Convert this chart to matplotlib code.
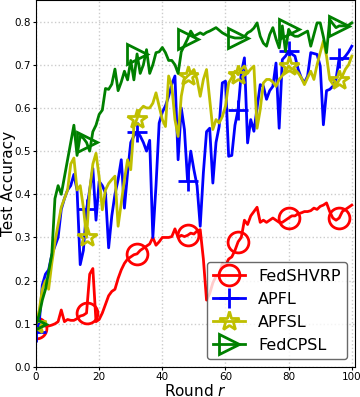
import numpy as np
import matplotlib
matplotlib.use("Agg")
import matplotlib.pyplot as plt

rounds = np.arange(0, 101)

fedshvrp = [0.09, 0.09, 0.095, 0.095, 0.095, 0.097, 0.1, 0.105, 0.132, 0.105,
            0.11, 0.108, 0.108, 0.112, 0.118, 0.12, 0.125, 0.215, 0.228, 0.105,
            0.11, 0.125, 0.145, 0.165, 0.175, 0.18, 0.205, 0.225, 0.24, 0.25,
            0.255, 0.26, 0.262, 0.27, 0.275, 0.28, 0.285, 0.30, 0.282, 0.29,
            0.30, 0.30, 0.30, 0.302, 0.32, 0.30, 0.305, 0.302, 0.305, 0.31,
            0.308, 0.315, 0.318, 0.25, 0.155, 0.17, 0.195, 0.21, 0.215, 0.24,
            0.235, 0.25, 0.255, 0.27, 0.29, 0.30, 0.34, 0.33, 0.35, 0.36,
            0.37, 0.335, 0.34, 0.335, 0.34, 0.345, 0.34, 0.335, 0.335, 0.34,
            0.345, 0.35, 0.35, 0.355, 0.357, 0.36, 0.36, 0.362, 0.368, 0.365,
            0.372, 0.375, 0.38, 0.36, 0.345, 0.34, 0.345, 0.36, 0.365, 0.37,
            0.375]

apfl = [0.08, 0.1, 0.19, 0.215, 0.225, 0.26, 0.28, 0.30, 0.365, 0.39,
        0.41, 0.42, 0.446, 0.41, 0.237, 0.27, 0.365, 0.41, 0.46, 0.34,
        0.43, 0.42, 0.403, 0.276, 0.35, 0.40, 0.434, 0.48, 0.368, 0.45,
        0.52, 0.535, 0.545, 0.535, 0.52, 0.50, 0.525, 0.30, 0.42, 0.565,
        0.59, 0.605, 0.627, 0.655, 0.674, 0.48, 0.60, 0.55, 0.43, 0.50,
        0.457, 0.42, 0.326, 0.45, 0.545, 0.553, 0.426, 0.52, 0.557, 0.658,
        0.662, 0.488, 0.49, 0.56, 0.596, 0.681, 0.716, 0.519, 0.573, 0.546,
        0.60, 0.654, 0.65, 0.62, 0.64, 0.65, 0.704, 0.553, 0.712, 0.72,
        0.731, 0.725, 0.72, 0.69, 0.67, 0.658, 0.674, 0.728, 0.726, 0.724,
        0.697, 0.561, 0.64, 0.643, 0.65, 0.666, 0.716, 0.712, 0.72, 0.73,
        0.743]

apfsl = [0.1, 0.13, 0.18, 0.2, 0.18, 0.24, 0.29, 0.33, 0.37, 0.39,
         0.41, 0.47, 0.484, 0.41, 0.42, 0.37, 0.30, 0.41, 0.47, 0.495,
         0.44, 0.364, 0.41, 0.425, 0.434, 0.442, 0.326, 0.38, 0.434, 0.48,
         0.457, 0.557, 0.575, 0.596, 0.604, 0.60, 0.60, 0.611, 0.635, 0.604,
         0.573, 0.557, 0.674, 0.65, 0.573, 0.534, 0.627, 0.666, 0.674, 0.68,
         0.689, 0.666, 0.627, 0.666, 0.689, 0.62, 0.55, 0.573, 0.565, 0.58,
         0.604, 0.658, 0.67, 0.685, 0.677, 0.69, 0.697, 0.681, 0.69, 0.697,
         0.553, 0.596, 0.658, 0.666, 0.666, 0.66, 0.65, 0.666, 0.675, 0.685,
         0.697, 0.69, 0.689, 0.681, 0.67, 0.654, 0.67, 0.685, 0.666, 0.70,
         0.728, 0.755, 0.72, 0.666, 0.655, 0.651, 0.665, 0.674, 0.69, 0.70,
         0.72]

fedcpsl = [0.1, 0.12, 0.155, 0.18, 0.22, 0.26, 0.39, 0.42, 0.40, 0.44,
           0.48, 0.52, 0.56, 0.49, 0.535, 0.53, 0.52, 0.50, 0.545, 0.56,
           0.585, 0.595, 0.645, 0.643, 0.655, 0.69, 0.64, 0.66, 0.685, 0.665,
           0.71, 0.665, 0.725, 0.68, 0.70, 0.735, 0.68, 0.70, 0.728, 0.73,
           0.74, 0.728, 0.71, 0.71, 0.70, 0.68, 0.73, 0.745, 0.76, 0.778,
           0.766, 0.77, 0.774, 0.77, 0.775, 0.778, 0.782, 0.786, 0.78, 0.774,
           0.77, 0.766, 0.764, 0.762, 0.762, 0.762, 0.765, 0.774, 0.778, 0.785,
           0.797, 0.766, 0.75, 0.743, 0.77, 0.786, 0.76, 0.739, 0.79, 0.731,
           0.782, 0.77, 0.766, 0.766, 0.77, 0.774, 0.778, 0.743, 0.77, 0.797,
           0.797, 0.765, 0.728, 0.805, 0.795, 0.786, 0.79, 0.79, 0.79, 0.792,
           0.797]

labels = ["FedSHVRP", "APFL", "APFSL", "FedCPSL"]
series = [fedshvrp, apfl, apfsl, fedcpsl]
colors = ["r", "b", "y", "g"]
markers = ["o", "+", "*", ">"]

fig = plt.figure(figsize=(3.6, 3.97), dpi=100)
ax = fig.add_axes([0.1, 0.0756, 0.886, 0.9244])

for vals, lab, c, m in zip(series, labels, colors, markers):
    ax.plot(rounds, vals, color=c, marker=m, markevery=16, markersize=15,
            markerfacecolor="none", markeredgewidth=2, linewidth=2, label=lab)

ax.set_xlim(0, 101)
ax.set_ylim(0, 0.85)
ax.set_xticks([0, 20, 40, 60, 80, 100])
ax.set_yticks([0.0, 0.1, 0.2, 0.3, 0.4, 0.5, 0.6, 0.7, 0.8])
ax.tick_params(labelsize=7.5, length=2, pad=1.5)
ax.grid(True, linestyle=":", color="#cccccc", linewidth=1)
ax.set_xlabel("Round $r$", fontsize=11, labelpad=1)
ax.set_ylabel("Test Accuracy", fontsize=11)
ax.yaxis.set_label_coords(-0.062, 0.5)
ax.legend(loc="lower right", fontsize=11.5, edgecolor="#444444")

fig.savefig("out.png", dpi=100)
